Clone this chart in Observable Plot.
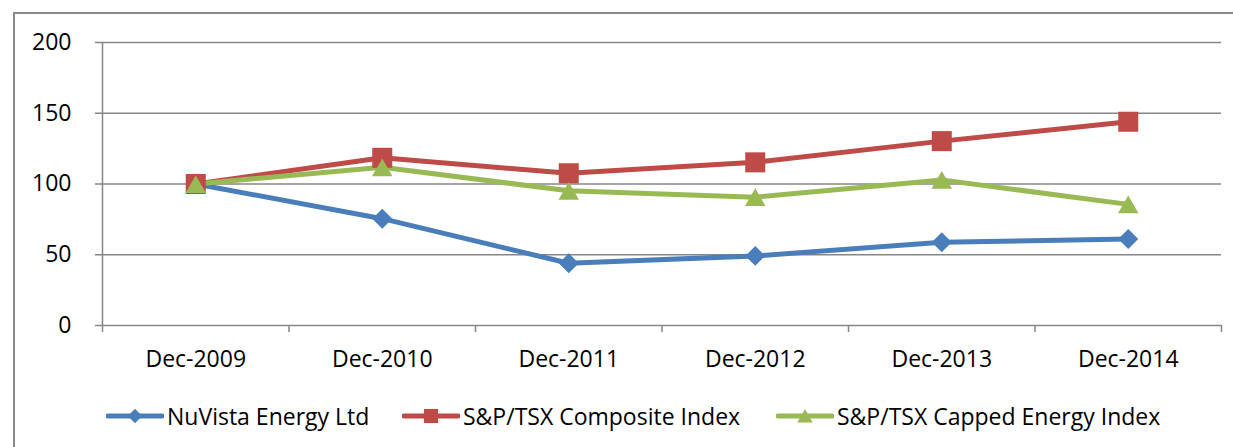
<!DOCTYPE html>
<html>
<head>
<meta charset="utf-8">
<script src="https://cdn.jsdelivr.net/npm/d3@7"></script>
<script src="https://cdn.jsdelivr.net/npm/@observablehq/plot@0.6"></script>
<style>
  html, body { margin: 0; padding: 0; background: #fff; width: 1233px; height: 447px; overflow: hidden; }
  #wrap { position: relative; width: 1233px; height: 447px; font-family: "Open Sans", sans-serif; }
  #frame { position: absolute; left: 13px; top: 12px; width: 1400px; height: 600px; border-left: 2px solid #8a8a8a; border-top: 2px solid #8a8a8a; pointer-events: none; }
  #chart { position: absolute; left: 0; top: 0; }
  .leg { position: absolute; top: 400px; display: flex; align-items: center; font-size: 23px; color: #000; white-space: nowrap; }
  .leg svg { display: block; margin-right: 3px; }
</style>
</head>
<body>
<div id="wrap">
  <div id="chart"></div>
  <div id="frame"></div>
  <div id="legend"></div>
</div>
<script>
const years = ["Dec-2009", "Dec-2010", "Dec-2011", "Dec-2012", "Dec-2013", "Dec-2014"];
const seriesNames = ["NuVista Energy Ltd", "S&P/TSX Composite Index", "S&P/TSX Capped Energy Index"];
const nuvista   = [100, 75.5, 44.0, 49.2, 58.8, 61.2];
const composite = [100, 118.5, 107.6, 115.3, 130.3, 144.0];
const energy    = [100, 111.8, 95.2, 90.7, 102.9, 85.6];
const yTicks = [0, 50, 100, 150, 200];

const colors = ["#4A7EBB", "#BE4B48", "#98B954"];
const symbols = ["diamond2", "square", "triangle2"];
const radii = [9.0, 11.3, 9.8];
const symbolDy = [0, 0, 3];

const allValues = [nuvista, composite, energy];
const data = allValues.flatMap((vals, s) => vals.map((v, i) => ({series: seriesNames[s], s, i, year: years[i], value: v})));

const grid = "#868686";

const marks = [
  Plot.ruleY(yTicks.filter(d => d > 0), {stroke: grid, strokeWidth: 1.5}),
  Plot.ruleX([-0.5], {stroke: grid, strokeWidth: 1.5}),
  Plot.ruleY([0], {stroke: grid, strokeWidth: 1.5}),
  Plot.axisY({ticks: yTicks, tickSize: 7, tickPadding: 24, stroke: grid, strokeWidth: 1.5, tickFormat: d => String(d), label: null, fontSize: 23}),
  Plot.axisX({ticks: d3.range(-0.5, 6, 1), tickSize: 7, tickFormat: () => "", stroke: grid, strokeWidth: 1.5, label: null}),
  Plot.axisX({ticks: d3.range(0, 6), tickSize: 0, tickPadding: 25, tickFormat: i => years[i], label: null, fontSize: 23}),
];
seriesNames.forEach((name, s) => {
  const rows = data.filter(d => d.s === s);
  marks.push(Plot.line(rows, {x: "i", y: "value", stroke: colors[s], strokeWidth: 5}));
});
seriesNames.forEach((name, s) => {
  const rows = data.filter(d => d.s === s);
  marks.push(Plot.dot(rows, {x: "i", y: "value", symbol: () => symbols[s], fill: colors[s], stroke: "none", r: radii[s], dy: symbolDy[s]}));
});

const chart = Plot.plot({
  width: 1233,
  height: 360,
  marginLeft: 102,
  marginRight: 12,
  marginTop: 42,
  marginBottom: 35,
  style: {fontFamily: "'Open Sans', sans-serif", fontSize: "23px", color: "#000", overflow: "visible", background: "transparent"},
  x: {type: "linear", domain: [-0.5, 5.5], axis: null},
  y: {type: "linear", domain: [0, 200], axis: null},
  symbol: {type: "identity"},
  marks
});
document.getElementById("chart").appendChild(chart);

// Legend
const legendLefts = [106, 402, 776];
const legend = document.getElementById("legend");
seriesNames.forEach((name, s) => {
  const item = document.createElement("div");
  item.className = "leg";
  item.style.left = legendLefts[s] + "px";
  const svg = d3.create("svg").attr("width", 58).attr("height", 30);
  svg.append("line").attr("x1", 2).attr("x2", 56).attr("y1", 15).attr("y2", 15)
    .attr("stroke", colors[s]).attr("stroke-width", 5).attr("stroke-linecap", "round");
  const symMap = {diamond2: d3.symbolDiamond2, square: d3.symbolSquare, triangle2: d3.symbolTriangle2};
  const sizes = [130, 200, 170];
  const offs = [0, 0, 2];
  svg.append("path").attr("transform", `translate(29,${15 + offs[s]})`)
    .attr("d", d3.symbol(symMap[symbols[s]], sizes[s])()).attr("fill", colors[s]);
  item.appendChild(svg.node());
  const span = document.createElement("span");
  span.textContent = name;
  item.appendChild(span);
  legend.appendChild(item);
});
</script>
</body>
</html>
